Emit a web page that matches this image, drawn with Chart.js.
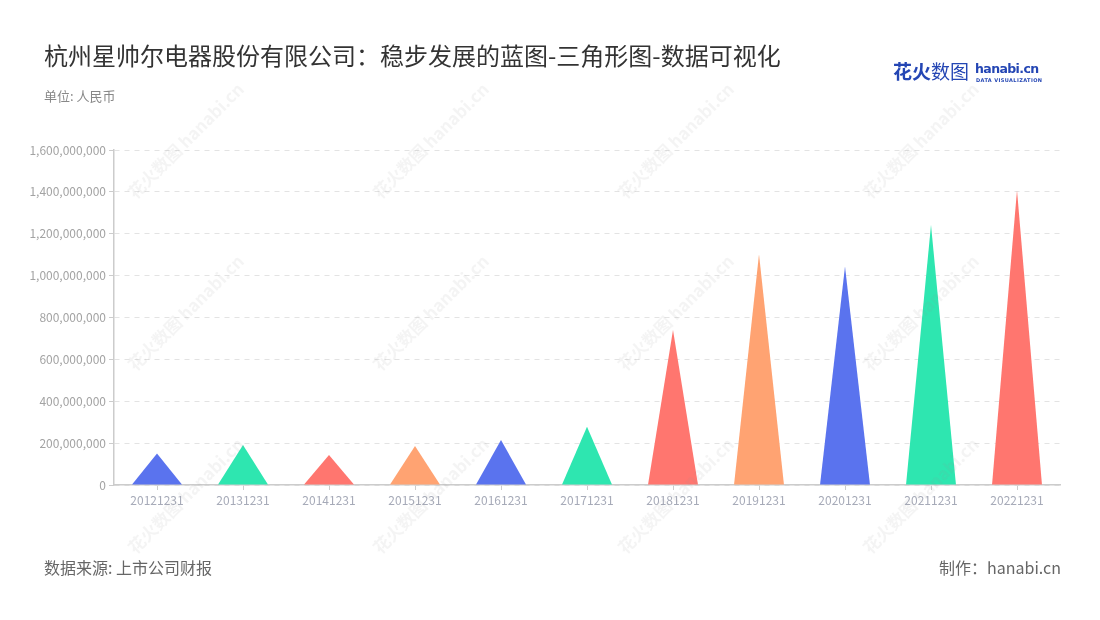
<!DOCTYPE html>
<html>
<head>
<meta charset="utf-8">
<script src="https://cdn.jsdelivr.net/npm/chart.js@4"></script>
<style>
  html, body { margin: 0; padding: 0; background: #fff; }
  #wrap { position: relative; width: 1100px; height: 620px; overflow: hidden; font-family: "Noto Sans CJK SC", "Noto Sans", sans-serif; }
  #chart { position: absolute; left: 0; top: 0; }
  .title { position: absolute; left: 44px; top: 38px; font-size: 24px; color: #333; line-height: 34px; white-space: nowrap; }
  .unit { position: absolute; left: 44px; top: 87px; font-size: 13px; color: #888; line-height: 18px; }
  .source { position: absolute; left: 44px; top: 556px; font-size: 16px; color: #666; line-height: 22px; }
  .maker { position: absolute; right: 39px; top: 556px; font-size: 16px; color: #666; line-height: 22px; }
  .logo { position: absolute; left: 893px; top: 58px; height: 30px; white-space: nowrap; }
  .logo .cn { position: absolute; left: 0; top: 0; font-size: 19px; font-weight: bold; color: #2446b4; line-height: 26px; }
  .logo .cn span { font-weight: normal; }
  .logo .en { position: absolute; left: 82px; top: -1px; font-family: "DejaVu Sans", sans-serif; font-size: 12.5px; font-weight: bold; color: #2446b4; line-height: 24px; letter-spacing: -0.6px; }
  .logo .sub { position: absolute; left: 83px; top: 19px; font-family: "DejaVu Sans", sans-serif; font-size: 5px; font-weight: bold; color: #2446b4; letter-spacing: 0.4px; }
  .wm { position: absolute; font-size: 17px; font-weight: bold; color: rgba(150,150,150,0.10); transform: translate(-50%, -50%) rotate(-45deg); white-space: nowrap; pointer-events: none; }
</style>
</head>
<body>
<div id="wrap">
  <canvas id="chart" width="1100" height="620"></canvas>
  <div class="title">杭州星帅尔电器股份有限公司：稳步发展的蓝图-三角形图-数据可视化</div>
  <div class="unit">单位: 人民币</div>
  <div class="logo">
    <div class="cn">花火<span>数图</span></div>
    <div class="en">hanabi.cn</div>
    <div class="sub">DATA VISUALIZATION</div>
  </div>
  <div class="source">数据来源: 上市公司财报</div>
  <div class="maker">制作：hanabi.cn</div>
</div>
<script>
const categories = ["20121231", "20131231", "20141231", "20151231", "20161231", "20171231",
  "20181231", "20191231", "20201231", "20211231", "20221231"];
const values = [151000000, 191000000, 143000000, 186000000, 215000000, 278000000,
  740000000, 1102000000, 1043000000, 1242000000, 1408000000];
const palette = ["#5a73ee", "#2ee6b0", "#ff766f", "#ffa372"];
const yMax = 1600000000;
const yStep = 200000000;

// watermark spots
const wmX = [185, 430, 675, 920];
const wmY = [140, 312, 495];
const wrap = document.getElementById("wrap");
wmY.forEach(function (y) {
  wmX.forEach(function (x) {
    const d = document.createElement("div");
    d.className = "wm";
    d.style.left = x + "px";
    d.style.top = y + "px";
    d.textContent = "花火数图 hanabi.cn";
    wrap.appendChild(d);
  });
});

// draw each bar as a triangle
const trianglePlugin = {
  id: "triangles",
  beforeDatasetDraw(chart, args) {
    const ctx = chart.ctx;
    const meta = args.meta;
    meta.data.forEach(function (bar, i) {
      const p = bar.getProps(["x", "y", "base", "width"], true);
      ctx.save();
      ctx.fillStyle = bar.options.backgroundColor;
      ctx.beginPath();
      ctx.moveTo(p.x - p.width / 2, p.base);
      ctx.lineTo(p.x, p.y);
      ctx.lineTo(p.x + p.width / 2, p.base);
      ctx.closePath();
      ctx.fill();
      ctx.restore();
    });
    return false;
  }
};

new Chart(document.getElementById("chart"), {
  type: "bar",
  data: {
    labels: categories,
    datasets: [{
      data: values,
      backgroundColor: categories.map((c, i) => palette[i % palette.length]),
      barPercentage: 0.58,
      categoryPercentage: 1
    }]
  },
  options: {
    responsive: false,
    animation: false,
    layout: { padding: { top: 150, right: 40, bottom: 100, left: 0 } },
    plugins: { legend: { display: false }, tooltip: { enabled: false } },
    scales: {
      x: {
        afterFit(scale) { scale.height = 35; },
        grid: { drawOnChartArea: false, offset: false, tickLength: 5, tickColor: "#cccccc" },
        border: { color: "#cccccc", width: 1.5 },
        ticks: { color: "#a6aab8", padding: 3, font: { family: "Noto Sans CJK SC", size: 12 }, maxRotation: 0 }
      },
      y: {
        min: 0,
        max: yMax,
        afterFit(scale) { scale.width = 114; },
        grid: { color: "#e3e3e3", tickColor: "#cccccc", tickLength: 5 },
        border: { color: "#cccccc", width: 1.5, dash: [5, 5] },
        ticks: {
          stepSize: yStep,
          color: "#a3a3a3",
          padding: 3,
          font: { family: "Noto Sans CJK SC", size: 12 },
          callback: v => v.toLocaleString("en-US")
        }
      }
    }
  },
  plugins: [trianglePlugin]
});
</script>
</body>
</html>
